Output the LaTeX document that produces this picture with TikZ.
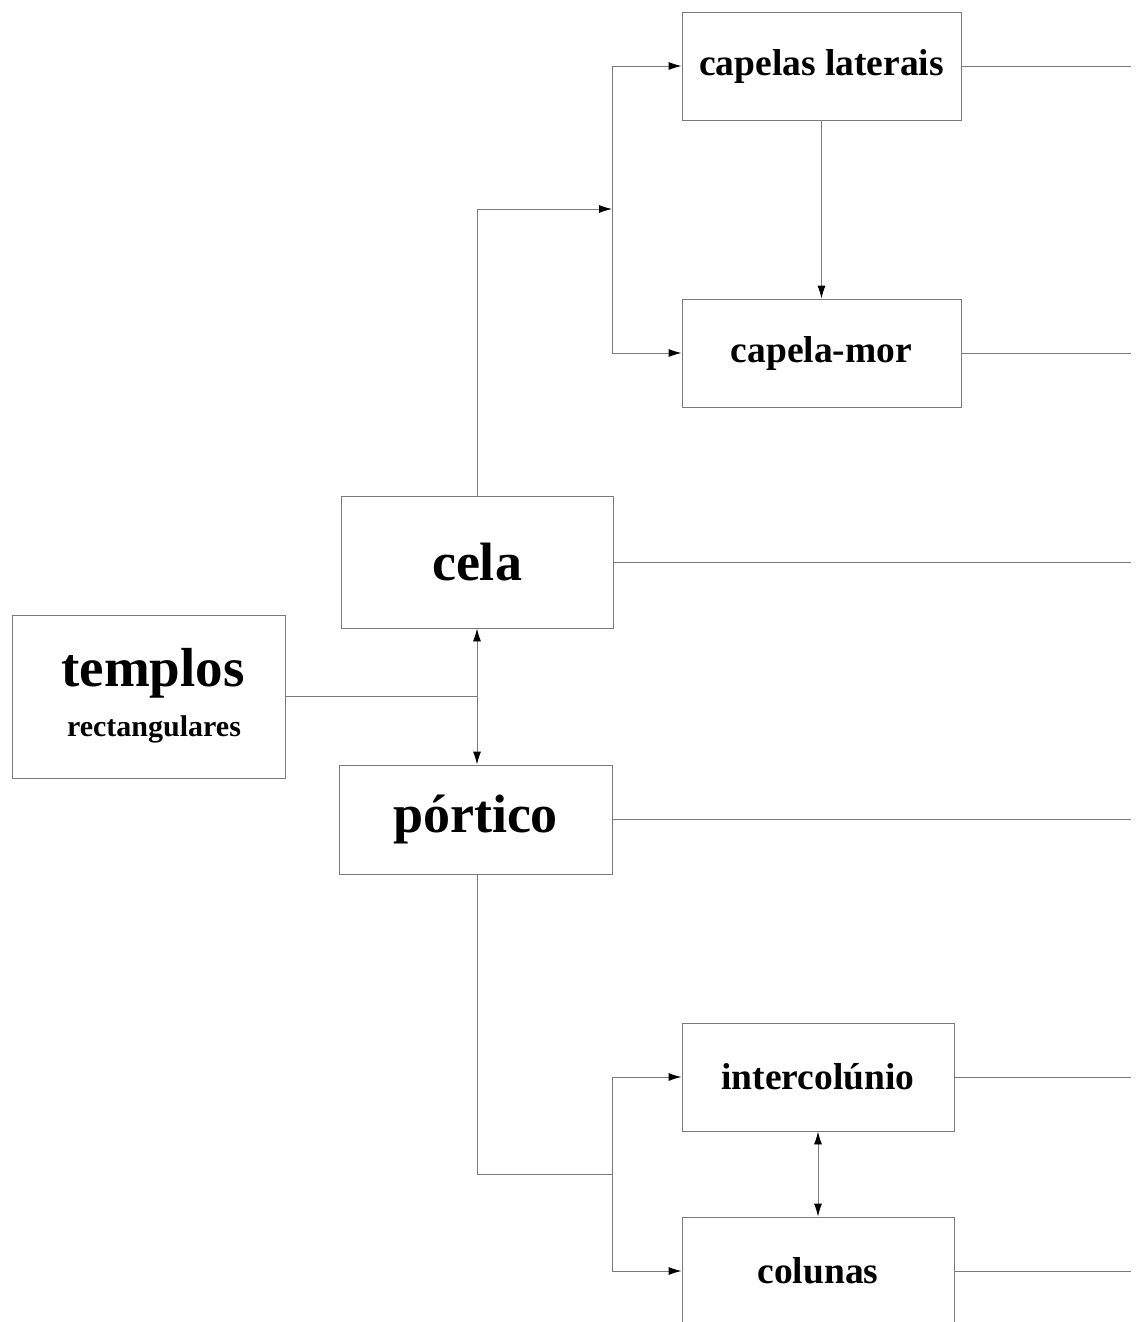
\documentclass[tikz,border=0pt]{standalone}
\usepackage{fontspec}
\setmainfont{Liberation Serif}
\usetikzlibrary{arrows.meta}
\definecolor{linegray}{HTML}{7A7A7A}
\tikzset{
  box/.style={draw=linegray, line width=0.9pt, inner sep=0pt, font=\bfseries, text=black},
  mid/.style={box, font=\bfseries\fontsize{37.5}{40}\selectfont},
  big/.style={box, font=\bfseries\fontsize{54}{56}\selectfont},
  conn/.style={draw=linegray, line width=0.9pt},
  tip/.style={},
  arr/.style={conn, -{Latex[length=13pt,width=8pt,color=black]}},
  darr/.style={conn, {Latex[length=13pt,width=8pt,color=black]}-{Latex[length=13pt,width=8pt,color=black]}},
}
\begin{document}
\begin{tikzpicture}[x=1pt,y=-1pt]
\useasboundingbox (0,0) rectangle (1141,1322);
\node[mid, minimum width=279pt, minimum height=108pt] (capl) at (821.5,66) {capelas laterais};
\node[mid, minimum width=279pt, minimum height=108pt] (capm) at (821.5,353) {capela-mor};
\node[big, minimum width=272pt, minimum height=132pt] (cela) at (477,562) {cela};
\node[box, minimum width=273pt, minimum height=163pt] (templos) at (148.5,696.5) {};
\node[font=\bfseries\fontsize{55}{58}\selectfont, inner sep=0pt] (t1) at (153,673) {templos};
\node[font=\bfseries\fontsize{30}{32}\selectfont, inner sep=0pt] (t2) at (154,729) {rectangulares};
\node[big, minimum width=273pt, minimum height=109pt] (portico) at (475.5,819.5) {pórtico};
\node[mid, minimum width=272pt, minimum height=108pt] (inter) at (818,1077) {intercolúnio};
\node[mid, minimum width=272pt, minimum height=108pt] (colunas) at (818,1271) {colunas};

\coordinate (r1) at (1131,66);
\coordinate (r2) at (1131,353);
\coordinate (r3) at (1131,562);
\coordinate (r4) at (1131,819.5);
\coordinate (r5) at (1131,1077);
\coordinate (r6) at (1131,1271);
\coordinate (b1) at (612,209);
\coordinate (b2) at (612,1174);

\draw[conn] (capl.east) -- (r1);
\draw[conn] (capm.east) -- (r2);
\draw[conn] (cela.east) -- (r3);
\draw[conn] (portico.east) -- (r4);
\draw[conn] (inter.east) -- (r5);
\draw[conn] (colunas.east) -- (r6);

\draw[arr] (capl.south) -- (capm.north);
\draw[arr] (cela.north) |- (b1);
\draw[arr] (b1) |- (capl.west);
\draw[arr] (b1) |- (capm.west);

\draw[conn] (templos.east) -- (templos.east -| cela.south);
\draw[darr] (cela.south) -- (cela.south |- portico.north);

\draw[conn] (portico.south -| cela.south) |- (b2);
\draw[arr] (b2) |- (inter.west);
\draw[arr] (b2) |- (colunas.west);
\draw[darr] (inter.south) -- (colunas.north);
\end{tikzpicture}
\end{document}
